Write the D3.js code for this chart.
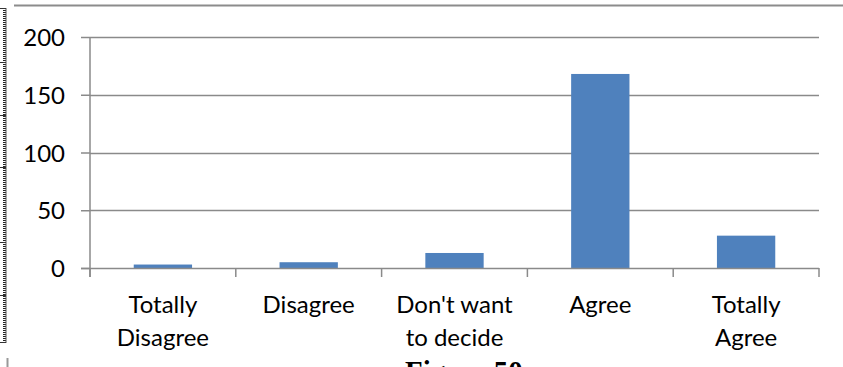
<!DOCTYPE html>
<html>
<head>
<meta charset="utf-8">
<script src="https://cdn.jsdelivr.net/npm/d3@7/dist/d3.min.js"></script>
<style>
  html, body { margin: 0; padding: 0; background: #fff; overflow: hidden; }
  svg { display: block; }
  .lbl { font-family: Lato, "Open Sans", sans-serif; font-size: 24px; fill: #000; }
</style>
</head>
<body>
<svg id="chart" width="843" height="367"></svg>
<script>
// Survey responses per answer
const categories = [
  ["Totally", "Disagree"],
  ["Disagree"],
  ["Don't want", "to decide"],
  ["Agree"],
  ["Totally", "Agree"]
];
const counts = [3, 5, 13, 168, 28];
const yTicks = [0, 50, 100, 150, 200];

const svg = d3.select("#chart");
const W = 843, H = 367;
const plotLeft = 90, plotRight = 819, plotTop = 37, plotBottom = 268;

const keys = categories.map(c => c.join(" "));
const x = d3.scaleBand().domain(keys).range([plotLeft, plotRight]).padding(0);
const y = d3.scaleLinear().domain([0, 200]).range([plotBottom, plotTop]);

const axisColor = "#8a8a8a";

// Page frame: top rule and dotted left margin
svg.append("line")
  .attr("x1", 14).attr("x2", W).attr("y1", 5.5).attr("y2", 5.5)
  .attr("stroke", "#8c8c8c").attr("stroke-width", 2);
svg.append("line")
  .attr("x1", 4.5).attr("x2", 4.5).attr("y1", 8).attr("y2", 343)
  .attr("stroke", "#222").attr("stroke-width", 3).attr("stroke-dasharray", "1 1");
svg.append("line")
  .attr("x1", 6).attr("x2", 6).attr("y1", 8).attr("y2", 343)
  .attr("stroke", "#555").attr("stroke-width", 1);
[8, 62, 115, 167, 242, 295, 342].forEach(v => {
  svg.append("line")
    .attr("x1", 0).attr("x2", 6).attr("y1", v + 0.5).attr("y2", v + 0.5)
    .attr("stroke", "#333").attr("stroke-width", 1);
});
svg.append("line")
  .attr("x1", 7.5).attr("x2", 7.5).attr("y1", 358).attr("y2", 367)
  .attr("stroke", "#999").attr("stroke-width", 2);

// Horizontal gridlines
svg.append("g")
  .selectAll("line")
  .data(yTicks.filter(d => d > 0))
  .join("line")
  .attr("x1", plotLeft).attr("x2", plotRight)
  .attr("y1", d => Math.round(y(d)) + 0.5).attr("y2", d => Math.round(y(d)) + 0.5)
  .attr("stroke", axisColor).attr("stroke-width", 1.5);

// Y axis
const yAxis = svg.append("g")
  .attr("transform", `translate(${plotLeft},0)`)
  .call(d3.axisLeft(y).tickValues(yTicks).tickSize(9).tickPadding(16));
yAxis.select(".domain").remove();
yAxis.selectAll(".tick line").attr("stroke", axisColor).attr("stroke-width", 1.5);
yAxis.selectAll(".tick text").attr("class", "lbl").attr("dy", "0.36em");
svg.append("line")
  .attr("x1", plotLeft).attr("x2", plotLeft).attr("y1", y(200)).attr("y2", plotBottom + 9)
  .attr("stroke", axisColor).attr("stroke-width", 1.5);

// Bars
const barW = x.bandwidth() * 0.4;
svg.append("g")
  .selectAll("rect")
  .data(counts)
  .join("rect")
  .attr("x", (d, i) => x(keys[i]) + (x.bandwidth() - barW) / 2)
  .attr("y", d => y(d))
  .attr("width", barW)
  .attr("height", d => y(0) - y(d))
  .attr("fill", "#4f81bd");

// X axis with category boundary ticks
svg.append("line")
  .attr("x1", plotLeft - 9).attr("x2", plotRight).attr("y1", plotBottom + 0.5).attr("y2", plotBottom + 0.5)
  .attr("stroke", axisColor).attr("stroke-width", 1.5);
const bounds = keys.map(k => x(k)).concat([plotRight]);
svg.append("g")
  .selectAll("line")
  .data(bounds)
  .join("line")
  .attr("x1", d => d).attr("x2", d => d)
  .attr("y1", plotBottom).attr("y2", plotBottom + 9)
  .attr("stroke", axisColor).attr("stroke-width", 1.5);

// Category labels
const lab = svg.append("g")
  .selectAll("text")
  .data(categories)
  .join("text")
  .attr("class", "lbl")
  .attr("text-anchor", "middle")
  .attr("x", (d, i) => x(keys[i]) + x.bandwidth() / 2)
  .attr("y", 313);
lab.selectAll("tspan")
  .data(d => d)
  .join("tspan")
  .attr("x", function() { return d3.select(this.parentNode).attr("x"); })
  .attr("dy", (d, i) => i === 0 ? 0 : 33)
  .text(d => d);

// Caption below the chart
svg.append("text")
  .attr("x", 405).attr("y", 381)
  .attr("font-family", "'Liberation Serif', 'Times New Roman', serif")
  .attr("font-weight", "bold")
  .attr("font-size", 29)
  .text("Figure 50");
</script>
</body>
</html>
